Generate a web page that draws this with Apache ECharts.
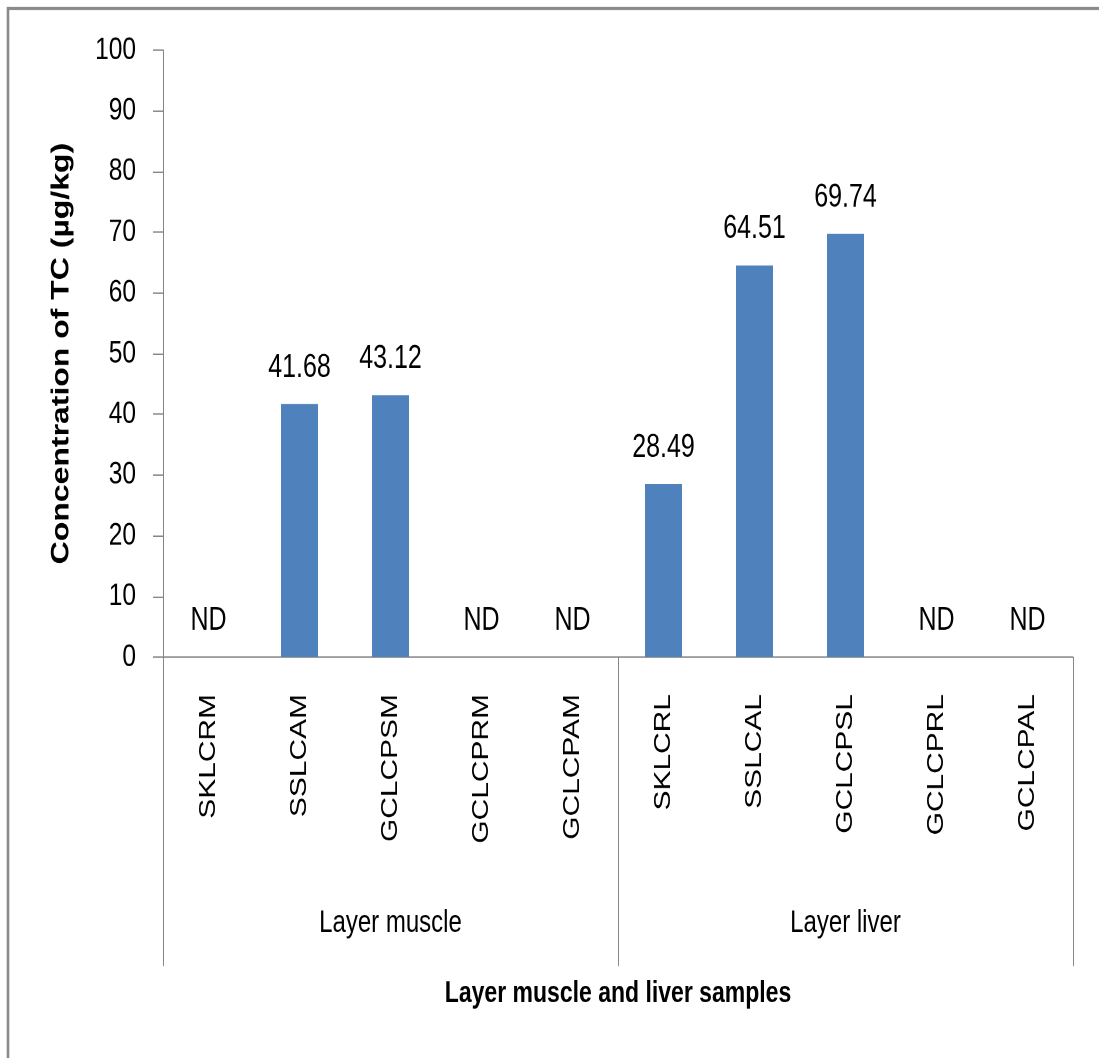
<!DOCTYPE html>
<html>
<head>
<meta charset="utf-8">
<script src="https://cdn.jsdelivr.net/npm/echarts@6/dist/echarts.min.js"></script>
<style>
  html, body { margin: 0; padding: 0; background: #fff; }
  #page { width: 1099px; height: 1058px; position: relative; overflow: hidden; }
  /* The chart is laid out at 1099x814 and stretched vertically to fill 1058px */
  #chart { position: absolute; left: 0; top: 0; width: 1099px; height: 814px;
           transform: scaleY(1.29975); transform-origin: 0 0; }
</style>
</head>
<body>
<div id="page"><div id="chart"></div></div>
<script>
// Sample codes along the category axis
const samples = ['SKLCRM', 'SSLCAM', 'GCLCPSM', 'GCLCPRM', 'GCLCPAM',
                 'SKLCRL', 'SSLCAL', 'GCLCPSL', 'GCLCPRL', 'GCLCPAL'];
// Tissue groups, five samples each
const groups = ['Layer muscle', 'Layer liver'];
// TC concentration (µg/kg); null = not detected
const tcValues = [null, 41.68, 43.12, null, null, 28.49, 64.51, 69.74, null, null];
// Y axis range
const yMin = 0, yMax = 100, yStep = 10;

const font = "'Liberation Sans', Arial, sans-serif";
const axisGray = '#868686';

const chart = echarts.init(document.getElementById('chart'), null, { devicePixelRatio: 2 });
chart.setOption({
  animation: false,
  backgroundColor: '#fff',
  grid: { left: 163, right: 26, top: 38.5, bottom: 308.5, containLabel: false },
  xAxis: [
    {
      type: 'category',
      data: samples,
      position: 'bottom',
      axisLine: { lineStyle: { color: axisGray, width: 1 } },
      axisTick: { interval: 0, length: 160, lineStyle: { color: axisGray } },
      axisLabel: {
        interval: 0, rotate: 90, margin: 28.5,
        fontFamily: font, fontSize: 23, color: '#000'
      },
      name: 'Layer muscle and liver samples',
      nameLocation: 'middle',
      nameGap: 247.5,
      nameTextStyle: { fontFamily: font, fontSize: 23, lineHeight: 23, fontWeight: 'bold', color: '#000' }
    },
    {
      type: 'category',
      data: groups,
      position: 'bottom',
      offset: 0,
      axisLine: { show: false },
      axisTick: { show: true, interval: 0, length: 237.7, lineStyle: { color: axisGray } },
      axisLabel: {
        interval: 0, margin: 193,
        fontFamily: font, fontSize: 24, lineHeight: 24, color: '#000'
      }
    }
  ],
  yAxis: {
    type: 'value',
    min: yMin, max: yMax, interval: yStep,
    splitLine: { show: false },
    axisLine: { show: true, lineStyle: { color: axisGray } },
    axisTick: { show: true, length: 10, lineStyle: { color: axisGray } },
    axisLabel: { margin: 27, fontFamily: font, fontSize: 24.5, color: '#000' },
    name: 'Concentration of TC (µg/kg)',
    nameLocation: 'middle',
    nameGap: 89,
    nameTextStyle: { fontFamily: font, fontSize: 24.6, lineHeight: 25, fontWeight: 'bold', color: '#000' }
  },
  graphic: [
    { type: 'line', shape: { x1: 8, y1: 6.5, x2: 1099, y2: 6.5 }, style: { stroke: '#8a8a8a', lineWidth: 2.3 } },
    { type: 'line', shape: { x1: 8, y1: 5.4, x2: 8, y2: 814 }, style: { stroke: '#8a8a8a', lineWidth: 2.6 } }
  ],
  series: [{
    type: 'bar',
    xAxisIndex: 0,
    barWidth: 37,
    data: tcValues.map(v => (v == null ? 0 : v)),
    itemStyle: { color: '#4f81bd' },
    label: {
      show: true,
      position: 'top',
      distance: 15.4,
      fontFamily: font, fontSize: 25, lineHeight: 25, color: '#000',
      formatter: p => (tcValues[p.dataIndex] == null ? 'ND' : tcValues[p.dataIndex].toFixed(2))
    }
  }]
});
</script>
</body>
</html>
